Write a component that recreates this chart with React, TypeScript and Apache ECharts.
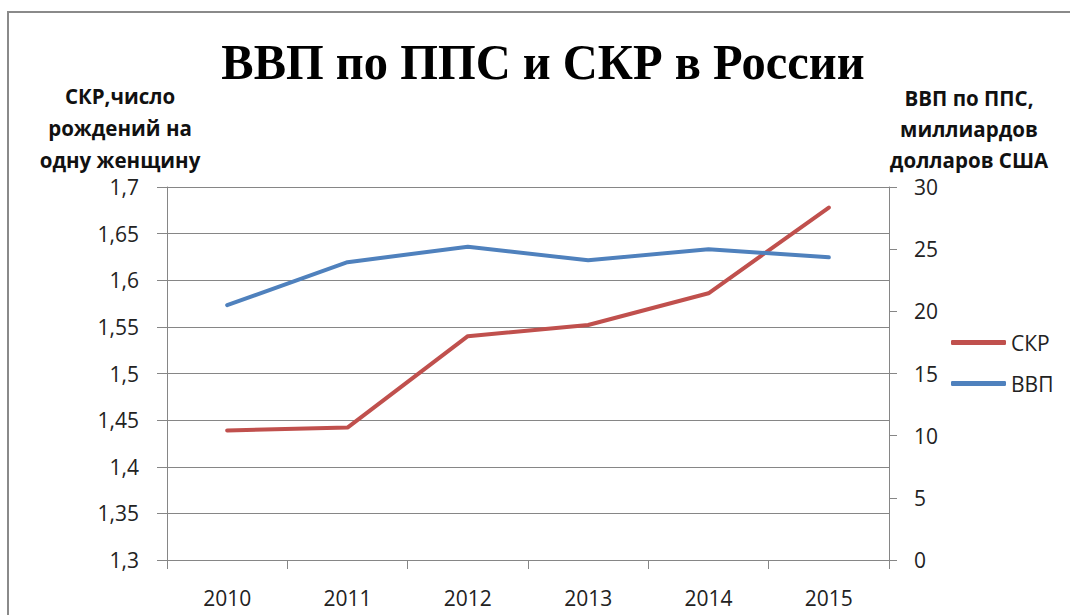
import React, { useEffect, useRef } from "react";
import * as echarts from "echarts";

const years = ["2010", "2011", "2012", "2013", "2014", "2015"];
const skr = [1.439, 1.442, 1.54, 1.552, 1.586, 1.678];
const vvp = [20.5, 23.95, 25.2, 24.1, 25.0, 24.35];
const titleText = "ВВП по ППС и СКР в России";
const leftAxisTitle = ["СКР,число", "рождений на", "одну женщину"];
const rightAxisTitle = ["ВВП по ППС,", "миллиардов", "долларов США"];

export default function App() {
  const ref = useRef<HTMLDivElement>(null);
  useEffect(() => {
    const chart = echarts.init(ref.current!, null, { renderer: "svg" });
    const labelFont = { fontFamily: "Open Sans", fontSize: 21, lineHeight: 22, color: "#222" };
    chart.setOption({
      animation: false,
      backgroundColor: "#fff",
      grid: { left: 167, right: 181, top: 187, bottom: 55, containLabel: false },
      xAxis: {
        type: "category",
        data: years,
        boundaryGap: true,
        axisLine: { lineStyle: { color: "#868686", width: 1 } },
        axisTick: { show: true, length: 9, lineStyle: { color: "#868686" } },
        axisLabel: { ...labelFont, fontSize: 21, lineHeight: 20, margin: 28 },
      },
      yAxis: [
        {
          type: "value",
          min: 1.3,
          max: 1.7,
          interval: 0.05,
          position: "left",
          axisLine: { show: true, lineStyle: { color: "#868686" } },
          axisTick: { show: true, length: 10, lineStyle: { color: "#868686" } },
          splitLine: { show: true, lineStyle: { color: "#868686", width: 1 } },
          axisLabel: {
            ...labelFont,
            margin: 28,
            formatter: (v: number) => String(+v.toFixed(2)).replace(".", ","),
          },
        },
        {
          type: "value",
          min: 0,
          max: 30,
          interval: 5,
          position: "right",
          axisLine: { show: true, lineStyle: { color: "#868686" } },
          axisTick: { show: true, length: 8, lineStyle: { color: "#868686" } },
          splitLine: { show: false },
          axisLabel: { ...labelFont, margin: 25 },
        },
      ],
      legend: {
        orient: "vertical",
        left: 951,
        top: 332,
        padding: 0,
        itemWidth: 55,
        itemHeight: 5,
        itemGap: 20,
        icon: "roundRect",
        textStyle: { fontFamily: "Open Sans", fontSize: 21, color: "#222" },
        data: ["СКР", "ВВП"],
      },
      series: [
        {
          name: "СКР",
          type: "line",
          data: skr,
          yAxisIndex: 0,
          showSymbol: false,
          symbol: "none",
          lineStyle: { color: "#C0504D", width: 4, cap: "round" },
          itemStyle: { color: "#C0504D" },
        },
        {
          name: "ВВП",
          type: "line",
          data: vvp,
          yAxisIndex: 1,
          showSymbol: false,
          symbol: "none",
          lineStyle: { color: "#4F81BD", width: 4, cap: "round" },
          itemStyle: { color: "#4F81BD" },
        },
      ],
      graphic: [
        {
          type: "rect",
          shape: { x: 8, y: 12, width: 1200, height: 800 },
          style: { fill: "none", stroke: "#8a8a8a", lineWidth: 2 },
          silent: true,
        },
        {
          type: "text",
          x: 543,
          y: 62,
          scaleX: 0.97,
          style: {
            text: titleText,
            fontFamily: "Liberation Serif",
            fontWeight: "bold",
            fontSize: 50,
            fill: "#000",
            textAlign: "center",
            textVerticalAlign: "middle",
          },
        },
        {
          type: "text",
          x: 120,
          y: 128,
          style: {
            text: leftAxisTitle.join("\n"),
            fontFamily: "Open Sans",
            fontWeight: "bold",
            fontSize: 20.5,
            lineHeight: 32,
            fill: "#111",
            textAlign: "center",
            textVerticalAlign: "middle",
          },
        },
        {
          type: "text",
          x: 969,
          y: 129,
          style: {
            text: rightAxisTitle.join("\n"),
            fontFamily: "Open Sans",
            fontWeight: "bold",
            fontSize: 20.5,
            lineHeight: 31,
            fill: "#111",
            textAlign: "center",
            textVerticalAlign: "middle",
          },
        },
      ],
    });
    return () => chart.dispose();
  }, []);
  return (
    <div
      ref={ref}
      style={{ position: "fixed", left: 0, top: 0, width: 1070, height: 615, background: "#fff" }}
    />
  );
}
